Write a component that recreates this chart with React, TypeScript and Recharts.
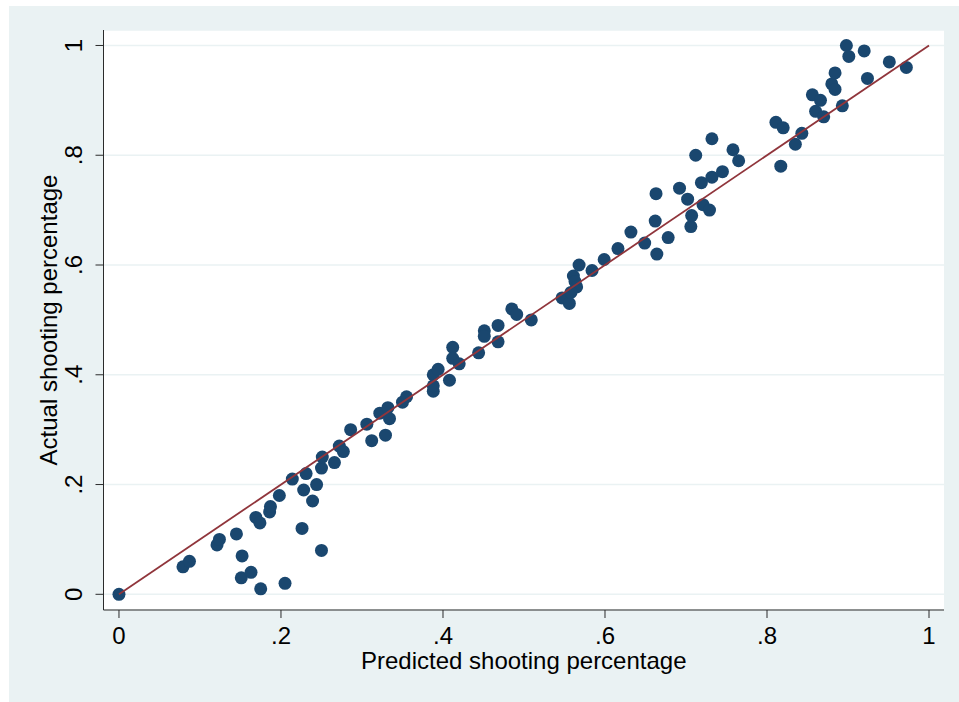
import React from 'react';
import { ScatterChart, Scatter, XAxis, YAxis, CartesianGrid } from 'recharts';

const predicted = [
  0, 0.079, 0.087, 0.121, 0.124, 0.145, 0.152, 0.151, 0.163, 0.175,
  0.169, 0.174, 0.186, 0.187, 0.198, 0.205, 0.214, 0.226, 0.228, 0.231,
  0.244, 0.239, 0.25, 0.25, 0.251, 0.266, 0.272, 0.277, 0.286, 0.306,
  0.312, 0.322, 0.332, 0.334, 0.329, 0.35, 0.355, 0.388, 0.394, 0.388,
  0.388, 0.408, 0.412, 0.412, 0.42, 0.444, 0.451, 0.451, 0.468, 0.468,
  0.485, 0.491, 0.509, 0.547, 0.556, 0.561, 0.563, 0.565, 0.558, 0.568,
  0.584, 0.599, 0.616, 0.632, 0.649, 0.664, 0.662, 0.663, 0.678, 0.692,
  0.702, 0.706, 0.707, 0.712, 0.719, 0.721, 0.729, 0.732, 0.732, 0.745,
  0.758, 0.765, 0.811, 0.82, 0.817, 0.835, 0.843, 0.856, 0.86, 0.866,
  0.87, 0.88, 0.884, 0.884, 0.893, 0.898, 0.901, 0.92, 0.924, 0.951, 0.972,
];

const actual = [
  0, 0.05, 0.06, 0.09, 0.1, 0.11, 0.07, 0.03, 0.04, 0.01,
  0.14, 0.13, 0.15, 0.16, 0.18, 0.02, 0.21, 0.12, 0.19, 0.22,
  0.2, 0.17, 0.08, 0.23, 0.25, 0.24, 0.27, 0.26, 0.3, 0.31,
  0.28, 0.33, 0.34, 0.32, 0.29, 0.35, 0.36, 0.4, 0.41, 0.37,
  0.38, 0.39, 0.45, 0.43, 0.42, 0.44, 0.48, 0.47, 0.49, 0.46,
  0.52, 0.51, 0.5, 0.54, 0.53, 0.58, 0.57, 0.56, 0.55, 0.6,
  0.59, 0.61, 0.63, 0.66, 0.64, 0.62, 0.68, 0.73, 0.65, 0.74,
  0.72, 0.67, 0.69, 0.8, 0.75, 0.71, 0.7, 0.76, 0.83, 0.77,
  0.81, 0.79, 0.86, 0.85, 0.78, 0.82, 0.84, 0.91, 0.88, 0.9,
  0.87, 0.93, 0.95, 0.92, 0.89, 1.0, 0.98, 0.99, 0.94, 0.97, 0.96,
];

const fitX = [0, 1];
const fitY = [0, 1];

const tickValues = [0, 0.2, 0.4, 0.6, 0.8, 1];
const tickLabels = ['0', '.2', '.4', '.6', '.8', '1'];

const xTitle = 'Predicted shooting percentage';
const yTitle = 'Actual shooting percentage';

const points = predicted.map((x, i) => ({ x, y: actual[i] }));
const fitLine = fitX.map((x, i) => ({ x, y: fitY[i] }));

const FONT = '"Liberation Sans", Arial, Helvetica, sans-serif';
const FS = 24;
const NAVY = '#1A476F';
const MAROON = '#90353B';
const PANEL = '#EAF2F3';
const AXIS = '#2b2b2b';

const fmt = (v: number) => {
  const i = tickValues.findIndex((t) => Math.abs(t - v) < 1e-9);
  return i >= 0 ? tickLabels[i] : String(v);
};

const YTick = (props: any) => {
  const { x, y, payload } = props;
  const bx = x - 11.5;
  return (
    <text
      x={bx}
      y={y}
      transform={`rotate(-90 ${bx} ${y})`}
      textAnchor="middle"
      fontSize={FS}
      fontFamily={FONT}
      fill="#000"
    >
      {fmt(payload.value)}
    </text>
  );
};

const XTitle = (props: any) => {
  const vb = props.viewBox || {};
  return (
    <text
      x={vb.x + vb.width / 2}
      y={vb.y + 59}
      textAnchor="middle"
      fontSize={FS}
      fontFamily={FONT}
      fill="#000"
    >
      {xTitle}
    </text>
  );
};

const YTitle = (props: any) => {
  const vb = props.viewBox || {};
  const cx = vb.x + 57;
  const cy = vb.y + vb.height / 2;
  return (
    <text
      x={cx}
      y={cy}
      transform={`rotate(-90 ${cx} ${cy})`}
      textAnchor="middle"
      fontSize={FS}
      fontFamily={FONT}
      fill="#000"
    >
      {yTitle}
    </text>
  );
};

const Dot = (props: any) => {
  const { cx, cy } = props;
  if (cx == null || cy == null) return <g />;
  return <circle cx={cx} cy={cy} r={6.5} fill={NAVY} />;
};

const NoShape = () => <g />;

export default function App() {
  return (
    <div style={{ position: 'absolute', left: 0, top: 0, width: 959, height: 702, background: '#fff' }}>
      <div style={{ position: 'absolute', left: 9, top: 6, width: 950, height: 696, background: PANEL }} />
      <div style={{ position: 'absolute', left: 0, top: 0 }}>
        <ScatterChart width={959} height={702} margin={{ top: 30, right: 15, bottom: 0, left: 0 }}>
          <CartesianGrid vertical={false} stroke={PANEL} strokeWidth={1.5} fill="#ffffff" />
          <XAxis
            type="number"
            dataKey="x"
            domain={[-0.0191, 1.0185]}
            allowDataOverflow
            ticks={tickValues}
            tickFormatter={fmt}
            height={92}
            tickSize={8}
            tickMargin={9}
            axisLine={{ stroke: AXIS, strokeWidth: 1 }}
            tickLine={{ stroke: AXIS, strokeWidth: 1 }}
            tick={{ fontSize: FS, fill: '#000', fontFamily: FONT }}
            label={{ content: XTitle }}
          />
          <YAxis
            type="number"
            dataKey="y"
            domain={[-0.0286, 1.0282]}
            allowDataOverflow
            ticks={tickValues}
            width={103.5}
            tickSize={8}
            tickMargin={2}
            axisLine={{ stroke: AXIS, strokeWidth: 1 }}
            tickLine={{ stroke: AXIS, strokeWidth: 1 }}
            tick={YTick}
            label={{ content: YTitle }}
          />
          <Scatter data={points} shape={Dot} isAnimationActive={false} />
          <Scatter
            data={fitLine}
            line={{ stroke: MAROON, strokeWidth: 1.8 }}
            shape={NoShape}
            isAnimationActive={false}
          />
        </ScatterChart>
      </div>
    </div>
  );
}
